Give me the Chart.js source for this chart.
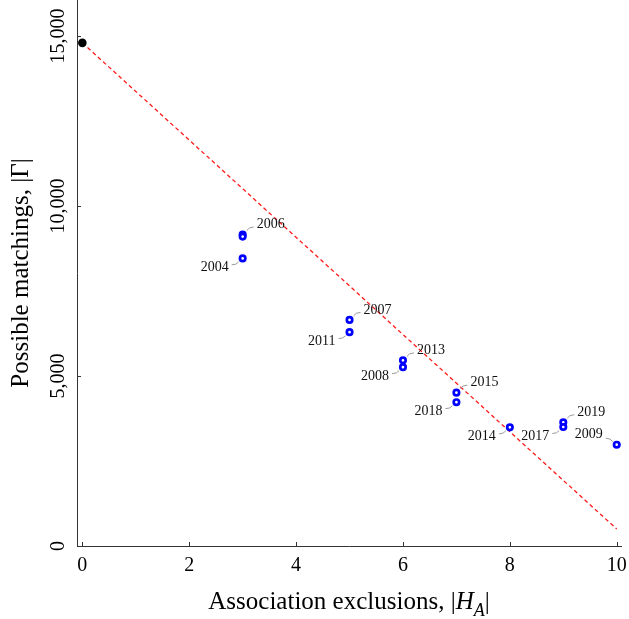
<!DOCTYPE html>
<html><head><meta charset="utf-8">
<style>html,body{margin:0;padding:0;background:#fff}canvas{display:block}</style>
<script src="https://cdn.jsdelivr.net/npm/chart.js@4/dist/chart.umd.min.js"></script>
</head><body>
<canvas id="c" width="629" height="619"></canvas>
<script>
// ---- data ----
const years = ['2006', null, '2004', '2007', '2011', '2013', '2008', '2015', '2018', '2014', '2019', '2017', '2009'];
const exclusions = [3, 3, 3, 5, 5, 6, 6, 7, 7, 8, 9, 9, 10];
const matchings = [9160, 9100, 8460, 6650, 6290, 5460, 5260, 4510, 4230, 3490, 3640, 3500, 2980];
const originX = [0];
const originY = [14800];
const trendX = [0, 10];
const trendY = [14800, 500];
const xTicks = [0, 2, 4, 6, 8, 10];
const xTickLabels = ['0', '2', '4', '6', '8', '10'];
const yTicks = [0, 5000, 10000, 15000];
const yTickLabels = ['0', '5,000', '10,000', '15,000'];

// ---- styling ----
const SERIF = '"Liberation Serif", "Times New Roman", serif';
const AXIS = '#333';
const placement = ['ur', null, 'll', 'ur', 'll', 'ur', 'll', 'ur', 'll', 'll', 'ur', 'll', 'ul'];

const decor = {
  id: 'decor',
  afterDraw(chart) {
    const ctx = chart.ctx;
    const xs = chart.scales.x, ys = chart.scales.y;
    const area = chart.chartArea;
    ctx.save();
    // inward tick marks
    ctx.strokeStyle = AXIS; ctx.lineWidth = 1;
    ctx.beginPath();
    xTicks.forEach(v => {
      const p = Math.round(xs.getPixelForValue(v)) + 0.5;
      ctx.moveTo(p, area.bottom); ctx.lineTo(p, area.bottom - 4);
    });
    yTicks.forEach(v => {
      const p = Math.round(ys.getPixelForValue(v)) + 0.5;
      ctx.moveTo(area.left, p); ctx.lineTo(area.left + 4, p);
    });
    ctx.stroke();
    // y tick labels (rotated)
    ctx.fillStyle = '#000';
    ctx.font = '20px ' + SERIF;
    ctx.textAlign = 'center'; ctx.textBaseline = 'alphabetic';
    yTicks.forEach((v, i) => {
      const p = ys.getPixelForValue(v);
      ctx.save();
      ctx.translate(area.left - 13, p);
      ctx.rotate(-Math.PI / 2);
      ctx.fillText(yTickLabels[i], 0, 0);
      ctx.restore();
    });
    // x axis title with italic H and subscript A
    const parts = [
      {t: 'Association exclusions, |', f: '25px ' + SERIF, dy: 0},
      {t: 'H', f: 'italic 25px ' + SERIF, dy: 0},
      {t: 'A', f: 'italic 18px ' + SERIF, dy: 7},
      {t: '|', f: '25px ' + SERIF, dy: 0}
    ];
    let total = 0;
    parts.forEach(p => { ctx.font = p.f; p.w = ctx.measureText(p.t).width; total += p.w; });
    let cx = (area.left + area.right) / 2 - total / 2;
    const base = 609;
    ctx.textAlign = 'left';
    parts.forEach(p => { ctx.font = p.f; ctx.fillText(p.t, cx, base + p.dy); cx += p.w; });
    // point labels with leader curves
    const meta = chart.getDatasetMeta(0);
    ctx.font = '14px ' + SERIF;
    ctx.textBaseline = 'middle';
    meta.data.forEach((el, i) => {
      const lab = years[i];
      if (!lab) return;
      const side = placement[i];
      const x = el.x, y = el.y;
      let s, c, e, tx, ty, al;
      if (side === 'ur') { s = [4, -4]; c = [6, -7.5]; e = [11, -7.5]; tx = 14; ty = -10; al = 'left'; }
      else if (side === 'll') { s = [-4, 3.5]; c = [-6, 6.5]; e = [-11, 6.5]; tx = -14; ty = 9; al = 'right'; }
      else { s = [-4, -3]; c = [-6, -6.5]; e = [-11, -6.5]; tx = -14; ty = -10; al = 'right'; }
      ctx.strokeStyle = '#9a9a9a'; ctx.lineWidth = 1;
      ctx.beginPath();
      ctx.moveTo(x + s[0], y + s[1]);
      ctx.quadraticCurveTo(x + c[0], y + c[1], x + e[0], y + e[1]);
      ctx.stroke();
      ctx.fillStyle = '#111';
      ctx.textAlign = al;
      ctx.fillText(lab, x + tx, y + ty);
    });
    ctx.restore();
  }
};

new Chart(document.getElementById('c'), {
  type: 'scatter',
  data: {
    datasets: [
      {
        label: 'Seasons',
        data: exclusions.map((x, i) => ({x: x, y: matchings[i]})),
        pointRadius: 2.7, pointHoverRadius: 2.7, borderWidth: 2.7,
        borderColor: '#0000ff', backgroundColor: '#ffffff'
      },
      {
        label: 'Start',
        data: originX.map((x, i) => ({x: x, y: originY[i]})),
        pointRadius: 4.3, pointHoverRadius: 4.3, borderWidth: 0,
        borderColor: '#000', backgroundColor: '#000'
      },
      {
        type: 'line',
        label: 'Trend',
        data: trendX.map((x, i) => ({x: x, y: trendY[i]})),
        showLine: true, borderColor: '#ff1a1a', borderWidth: 1.3, borderDash: [4, 3],
        pointRadius: 0, fill: false, tension: 0
      }
    ]
  },
  options: {
    responsive: false, devicePixelRatio: 1, animation: false,
    layout: {autoPadding: false, padding: {left: 0, right: 8, top: 0, bottom: 0}},
    plugins: {legend: {display: false}, tooltip: {enabled: false}},
    scales: {
      x: {
        type: 'linear', min: -0.1, max: 10.08,
        afterBuildTicks: s => { s.ticks = xTicks.map(v => ({value: v})); },
        afterFit: s => { s.height = 73; s.paddingLeft = 0; s.paddingRight = 0; },
        grid: {display: false, drawTicks: false},
        border: {display: true, color: AXIS, width: 1},
        ticks: {
          font: {family: SERIF, size: 20}, color: '#000', padding: 8,
          maxRotation: 0, minRotation: 0, autoSkip: false,
          callback: (v, i) => xTickLabels[i]
        }
      },
      y: {
        type: 'linear', min: 0, max: 16060,
        afterBuildTicks: s => { s.ticks = yTicks.map(v => ({value: v})); },
        afterFit: s => { s.width = 77; s.paddingTop = 0; s.paddingBottom = 0; },
        grid: {display: false, drawTicks: false},
        border: {display: true, color: AXIS, width: 1},
        ticks: {display: false},
        title: {
          display: true, text: 'Possible matchings, |Γ|', color: '#000',
          font: {family: SERIF, size: 25}, padding: {top: 6, bottom: 0}
        }
      }
    }
  },
  plugins: [decor]
});
</script>
</body></html>
